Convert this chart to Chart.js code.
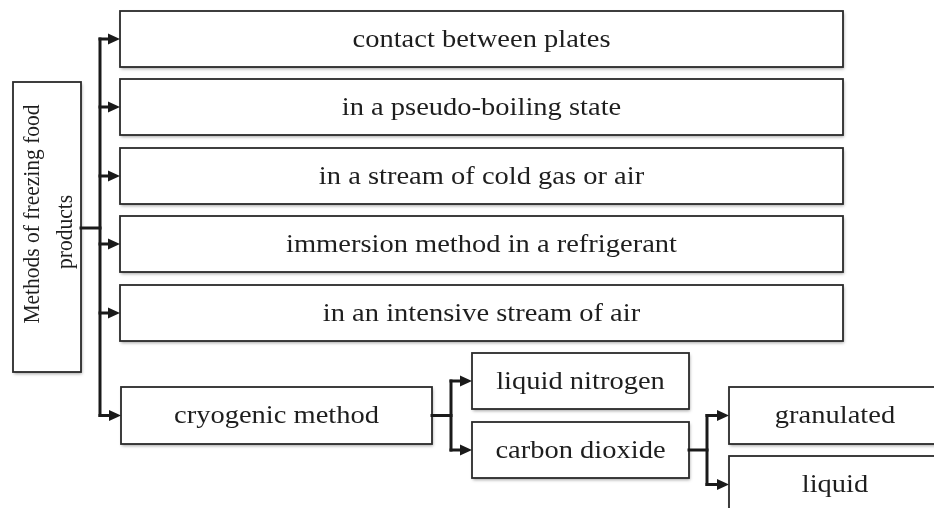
<!DOCTYPE html>
<html>
<head>
<meta charset="utf-8">
<script src="https://cdn.jsdelivr.net/npm/chart.js@4/dist/chart.umd.min.js"></script>
<style>
  html, body { margin: 0; padding: 0; background: #fff; }
  #wrap { width: 934px; height: 508px; }
</style>
</head>
<body>
<div id="wrap"><canvas id="diagram" width="934" height="508"></canvas></div>
<script>
// ── Diagram content ──────────────────────────────────────
const rootLabel = ['Methods of freezing food', 'products'];
const methods = [
  'contact between plates',
  'in a pseudo-boiling state',
  'in a stream of cold gas or air',
  'immersion method in a refrigerant',
  'in an intensive stream of air',
];
const cryoLabel = 'cryogenic method';
const cryoAgents = ['liquid nitrogen', 'carbon dioxide'];
const co2Forms = ['granulated', 'liquid'];

// ── Layout (diagram units, same as the 934x508 frame) ────
const LAYOUT = {
  root: { x0: 13, x1: 81, y0: 82, y1: 372 },
  rootText: { dx: 2, dy: [-13, 5], lh: 29 },
  methodX: [120, 843],
  methodTop: [11, 79, 148, 216, 285],
  methodH: 56,
  trunkX: 100,
  cryo: { x0: 121, x1: 432, y0: 387, y1: 444 },
  agentX: [472, 689],
  agentTop: [353, 422],
  agentH: 56,
  agentJoinX: 451,
  formX: [729, 941],
  formTop: [387, 456],
  formH: 57,
  formJoinX: 707,
};

const STYLE = {
  family: '"Liberation Serif", "Times New Roman", serif',
  size: 25,
  stretch: 1.14,
  vSize: 21.5,
  vStretch: 1.12,
  text: '#1e1e1e',
  border: '#2a2a2a',
  line: '#1a1a1a',
};

function boxList() {
  const L = LAYOUT;
  const boxes = [];
  boxes.push({ ...L.root, label: rootLabel, vertical: true });
  methods.forEach((m, i) => boxes.push({
    x0: L.methodX[0], x1: L.methodX[1], y0: L.methodTop[i], y1: L.methodTop[i] + L.methodH, label: m,
  }));
  boxes.push({ ...L.cryo, label: cryoLabel });
  cryoAgents.forEach((a, i) => boxes.push({
    x0: L.agentX[0], x1: L.agentX[1], y0: L.agentTop[i], y1: L.agentTop[i] + L.agentH, label: a,
  }));
  co2Forms.forEach((f, i) => boxes.push({
    x0: L.formX[0], x1: L.formX[1], y0: L.formTop[i], y1: L.formTop[i] + L.formH, label: f,
  }));
  return boxes;
}

const BOXES = boxList();
const mid = b => (b.y0 + b.y1) / 2;

const diagramPlugin = {
  id: 'diagram',
  afterDatasetsDraw(chart) {
    const ctx = chart.ctx;
    const xs = chart.scales.x, ys = chart.scales.y;
    const px = v => xs.getPixelForValue(v);
    const py = v => ys.getPixelForValue(v);
    const L = LAYOUT;

    // boxes
    BOXES.forEach(b => {
      const x = px(b.x0), y = py(b.y0), w = px(b.x1) - x, h = py(b.y1) - y;
      ctx.save();
      ctx.shadowColor = 'rgba(0,0,0,0.35)';
      ctx.shadowBlur = 3;
      ctx.shadowOffsetX = 1;
      ctx.shadowOffsetY = 2;
      ctx.fillStyle = '#fff';
      ctx.fillRect(x, y, w, h);
      ctx.restore();
      ctx.save();
      ctx.strokeStyle = STYLE.border;
      ctx.lineWidth = 1.8;
      ctx.strokeRect(x, y, w, h);
      ctx.restore();

      ctx.save();
      ctx.fillStyle = STYLE.text;
      ctx.textAlign = 'center';
      ctx.textBaseline = 'middle';
      if (b.vertical) {
        const t = L.rootText;
        ctx.translate(x + w / 2 + t.dx, y + h / 2);
        ctx.font = STYLE.vSize + 'px ' + STYLE.family;
        ctx.scale(STYLE.vStretch, 1);
        ctx.rotate(-Math.PI / 2);
        // after rotation, text x runs upward on screen: screen dy -> -x
        b.label.forEach((s, i) => ctx.fillText(s, -t.dy[i], (i - (b.label.length - 1) / 2) * t.lh));
      } else {
        ctx.translate(x + w / 2, y + h / 2);
        ctx.font = STYLE.size + 'px ' + STYLE.family;
        ctx.scale(STYLE.stretch, 1);
        ctx.fillText(b.label, 0, 1);
      }
      ctx.restore();
    });

    // connectors
    ctx.save();
    ctx.strokeStyle = STYLE.line;
    ctx.fillStyle = STYLE.line;
    ctx.lineWidth = 3;
    ctx.lineCap = 'square';

    const seg = (x0, y0, x1, y1) => {
      ctx.beginPath();
      ctx.moveTo(px(x0), py(y0));
      ctx.lineTo(px(x1), py(y1));
      ctx.stroke();
    };
    const arrow = (x0, x1, y) => {
      const tip = px(x1), yy = py(y);
      ctx.beginPath();
      ctx.moveTo(px(x0), yy);
      ctx.lineTo(tip - 10, yy);
      ctx.stroke();
      ctx.beginPath();
      ctx.moveTo(tip, yy);
      ctx.lineTo(tip - 12, yy - 5.5);
      ctx.lineTo(tip - 12, yy + 5.5);
      ctx.closePath();
      ctx.fill();
    };

    const methodBoxes = BOXES.slice(1, 1 + methods.length);
    const cryoBox = BOXES[1 + methods.length];
    const agentBoxes = BOXES.slice(2 + methods.length, 2 + methods.length + cryoAgents.length);
    const formBoxes = BOXES.slice(2 + methods.length + cryoAgents.length);

    // root -> trunk
    seg(L.root.x1, 228, L.trunkX, 228);
    seg(L.trunkX, mid(methodBoxes[0]), L.trunkX, mid(cryoBox));
    methodBoxes.forEach(b => arrow(L.trunkX, b.x0, mid(b)));
    arrow(L.trunkX, cryoBox.x0, mid(cryoBox));

    // cryogenic -> agents
    seg(cryoBox.x1, mid(cryoBox), L.agentJoinX, mid(cryoBox));
    seg(L.agentJoinX, mid(agentBoxes[0]), L.agentJoinX, mid(agentBoxes[1]));
    agentBoxes.forEach(b => arrow(L.agentJoinX, b.x0, mid(b)));

    // carbon dioxide -> forms
    const co2 = agentBoxes[1];
    seg(co2.x1, mid(co2), L.formJoinX, mid(co2));
    seg(L.formJoinX, mid(formBoxes[0]), L.formJoinX, mid(formBoxes[1]));
    formBoxes.forEach(b => arrow(L.formJoinX, b.x0, mid(b)));
    ctx.restore();
  },
};

new Chart(document.getElementById('diagram').getContext('2d'), {
  type: 'scatter',
  data: {
    datasets: [{
      data: BOXES.map(b => ({ x: (b.x0 + b.x1) / 2, y: mid(b) })),
      pointRadius: 0,
      pointHoverRadius: 0,
    }],
  },
  options: {
    responsive: false,
    animation: false,
    events: [],
    layout: { padding: 0 },
    plugins: { legend: { display: false }, tooltip: { enabled: false } },
    scales: {
      x: { type: 'linear', min: 0, max: 934, display: false },
      y: { type: 'linear', min: 0, max: 508, reverse: true, display: false },
    },
  },
  plugins: [diagramPlugin],
});
</script>
</body>
</html>
